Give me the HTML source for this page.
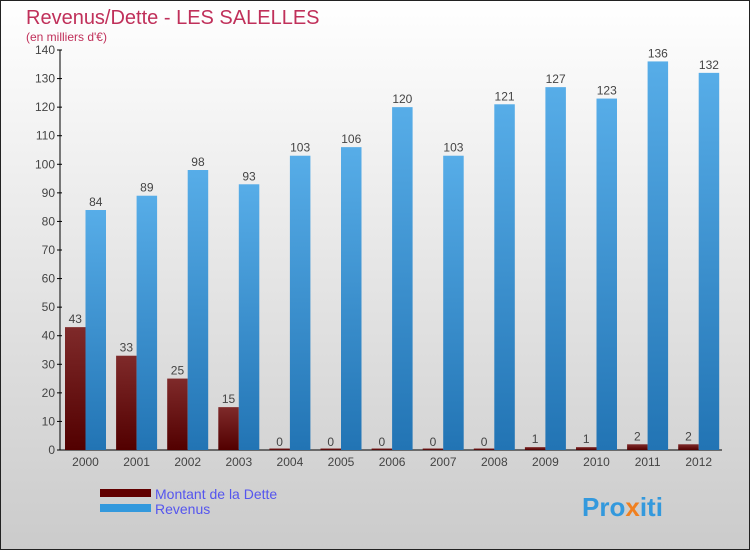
<!DOCTYPE html>
<html><head><meta charset="utf-8"><style>
body{margin:0}
svg{display:block;font-family:"Liberation Sans",sans-serif}
</style></head><body>
<svg width="750" height="550" viewBox="0 0 750 550">
<defs>
<linearGradient id="bg" x1="0" y1="0" x2="0" y2="1"><stop offset="0" stop-color="#ffffff"/><stop offset="1" stop-color="#cbcbcb"/></linearGradient>
<linearGradient id="gd" x1="0" y1="0" x2="0" y2="1"><stop offset="0" stop-color="#7f2a2a"/><stop offset="1" stop-color="#520000"/></linearGradient>
<linearGradient id="gr" x1="0" y1="0" x2="0" y2="1"><stop offset="0" stop-color="#57ade8"/><stop offset="1" stop-color="#2274b4"/></linearGradient>
</defs>
<rect x="0.5" y="0.5" width="749" height="549" fill="url(#bg)" stroke="#222"/>
<text x="26" y="24" font-size="20" fill="#c0305a">Revenus/Dette - LES SALELLES</text>
<text x="26" y="41" font-size="12" fill="#c0305a">(en milliers d'€)</text>
<g id="axes"></g>
<g id="bars"></g>
<g>
<rect x="100" y="489" width="51" height="8" fill="#620000"/>
<text x="155" y="499" font-size="14" fill="#5555ee">Montant de la Dette</text>
<rect x="100" y="504" width="51" height="8" fill="#3399dd"/>
<text x="155" y="514" font-size="14" fill="#5555ee">Revenus</text>
</g>
<text x="582" y="516" font-size="26" font-weight="bold" fill="#3399dd">Pro<tspan fill="#f08020">x</tspan>iti</text>
</svg>
<script>
const categories=["2000","2001","2002","2003","2004","2005","2006","2007","2008","2009","2010","2011","2012"];
const debt=[43,33,25,15,0,0,0,0,0,1,1,2,2];
const revenue=[84,89,98,93,103,106,120,103,121,127,123,136,132];
const yTicks=[0,10,20,30,40,50,60,70,80,90,100,110,120,130,140];
const NS="http://www.w3.org/2000/svg";
const y=v=>450-v*400/140;
const x0=i=>65+i*51.1;
const bw=20.5;
function mk(tag,at,parent,txt){const e=document.createElementNS(NS,tag);for(const k in at)e.setAttribute(k,at[k]);if(txt!==undefined)e.textContent=txt;parent.appendChild(e);return e;}
const ax=document.getElementById('axes'),bg=document.getElementById('bars');
let l=mk('line',{x1:60,y1:50,x2:60,y2:450,stroke:'#000'},ax);


l=mk('line',{x1:60,y1:450,x2:722,y2:450,stroke:'#000'},ax);


yTicks.forEach(t=>{
 mk('line',{x1:57,y1:y(t),x2:62,y2:y(t),stroke:'#000'},ax);
 const e=mk('text',{x:55,y:y(t)+4,'font-size':12,fill:'#444','text-anchor':'end'},ax,t);
 
 
});
categories.forEach((c,i)=>{
 const e=mk('text',{x:x0(i)+bw,y:466,'font-size':12,fill:'#444','text-anchor':'middle'},ax,c);
 
 
 const hd=Math.max(debt[i]*400/140,1.5);
 const b1=mk('rect',{x:x0(i),y:450-hd,width:bw,height:hd,fill:'url(#gd)'},bg);
 
 
 const t1=mk('text',{x:x0(i)+bw/2,y:y(debt[i])-4,'font-size':12,fill:'#444','text-anchor':'middle'},bg,debt[i]);
 
 
 const b2=mk('rect',{x:x0(i)+bw,y:y(revenue[i]),width:bw,height:450-y(revenue[i]),fill:'url(#gr)'},bg);
 
 
 const t2=mk('text',{x:x0(i)+bw*1.5,y:y(revenue[i])-4,'font-size':12,fill:'#444','text-anchor':'middle'},bg,revenue[i]);
 
 
});
</script>
</body></html>
